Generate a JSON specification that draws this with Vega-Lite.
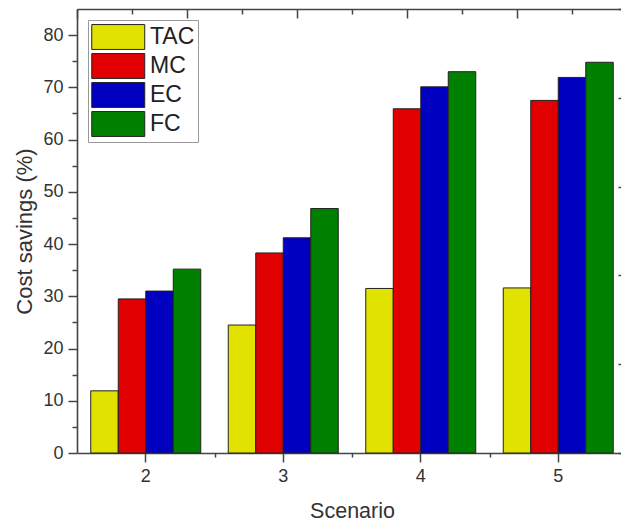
{
  "$schema": "https://vega.github.io/schema/vega-lite/v6.json",
  "width": 550,
  "height": 444,
  "autosize": {"type": "none"},
  "padding": {"left": 77, "top": 9, "right": 0, "bottom": 72},
  "background": "white",
  "config": {
    "font": "Liberation Sans",
    "view": {"stroke": null},
    "axis": {
      "grid": false,
      "domainColor": "#444",
      "tickColor": "#444",
      "domainWidth": 1.6,
      "tickWidth": 1.5,
      "labelColor": "#333",
      "titleColor": "#333",
      "labelFont": "Liberation Sans",
      "titleFont": "Liberation Sans",
      "titleFontWeight": "normal"
    }
  },
  "data": {
    "values": [
      {"Scenario": "2", "Type": "TAC", "Savings": 11.9},
      {"Scenario": "2", "Type": "MC", "Savings": 29.5},
      {"Scenario": "2", "Type": "EC", "Savings": 31.0},
      {"Scenario": "2", "Type": "FC", "Savings": 35.2},
      {"Scenario": "3", "Type": "TAC", "Savings": 24.5},
      {"Scenario": "3", "Type": "MC", "Savings": 38.3},
      {"Scenario": "3", "Type": "EC", "Savings": 41.2},
      {"Scenario": "3", "Type": "FC", "Savings": 46.8},
      {"Scenario": "4", "Type": "TAC", "Savings": 31.5},
      {"Scenario": "4", "Type": "MC", "Savings": 65.9},
      {"Scenario": "4", "Type": "EC", "Savings": 70.1},
      {"Scenario": "4", "Type": "FC", "Savings": 73.0},
      {"Scenario": "5", "Type": "TAC", "Savings": 31.6},
      {"Scenario": "5", "Type": "MC", "Savings": 67.5},
      {"Scenario": "5", "Type": "EC", "Savings": 71.9},
      {"Scenario": "5", "Type": "FC", "Savings": 74.8}
    ]
  },
  "layer": [
    {
      "mark": {"type": "bar", "stroke": "#222", "strokeWidth": 1},
      "encoding": {
        "x": {
          "field": "Scenario",
          "type": "nominal",
          "scale": {"paddingInner": 0.2, "paddingOuter": 0.1},
          "axis": {
            "orient": "bottom",
            "labelAngle": 0,
            "tickSize": 9,
            "labelPadding": 5,
            "labelFontSize": 18,
            "title": "Scenario",
            "titleFontSize": 21.5,
            "titlePadding": 15
          }
        },
        "xOffset": {
          "field": "Type",
          "type": "nominal",
          "sort": ["TAC", "MC", "EC", "FC"],
          "scale": {"paddingInner": 0, "paddingOuter": 0}
        },
        "y": {
          "field": "Savings",
          "type": "quantitative",
          "scale": {"domain": [0, 85], "nice": false},
          "axis": {
            "orient": "left",
            "values": [0, 5, 10, 15, 20, 25, 30, 35, 40, 45, 50, 55, 60, 65, 70, 75, 80],
            "labelExpr": "datum.value % 10 === 0 ? datum.label : ''",
            "tickSize": {"condition": {"test": "datum.value % 10 === 0", "value": 9}, "value": 5},
            "labelPadding": 5,
            "labelFontSize": 18,
            "title": "Cost savings (%)",
            "titleFontSize": 22,
            "titlePadding": 6
          }
        },
        "color": {
          "field": "Type",
          "type": "nominal",
          "sort": ["TAC", "MC", "EC", "FC"],
          "scale": {"domain": ["TAC", "MC", "EC", "FC"], "range": ["#e2e200", "#e00000", "#0000c0", "#008000"]},
          "legend": {
            "orient": "top-left",
            "offset": 11,
            "title": null,
            "direction": "vertical",
            "symbolType": "M-1,-0.94H3V0.94H-1Z",
            "symbolSize": 702,
            "symbolStrokeColor": "#222",
            "symbolStrokeWidth": 1,
            "symbolOpacity": 1,
            "labelFontSize": 23,
            "labelColor": "#222",
            "labelFont": "Liberation Sans",
            "labelOffset": 31,
            "rowPadding": -1.5,
            "padding": 3,
            "strokeColor": "#999",
            "fillColor": "white"
          }
        }
      }
    },
    {
      "layer": [
        {
          "mark": {"type": "point", "opacity": 0},
          "encoding": {
            "x": {
              "field": "Savings",
              "type": "quantitative",
              "scale": {"domain": [0, 10], "nice": false, "zero": false},
              "axis": {
                "orient": "top",
                "values": [0, 1, 2, 3, 4, 5, 6, 7, 8, 9, 10],
                "tickSize": {"condition": {"test": "datum.value % 2 === 0", "value": -9}, "value": -5},
                "labels": false,
                "title": null
              }
            },
            "y": {
              "field": "Savings",
              "type": "quantitative",
              "scale": {"domain": [0, 10], "nice": false, "zero": false},
              "axis": {
                "orient": "right",
                "values": [0, 1, 2, 3, 4, 5, 6, 7, 8, 9, 10],
                "tickSize": {"condition": {"test": "datum.value % 2 === 0", "value": -9}, "value": -5},
                "labels": false,
                "title": null
              }
            }
          }
        },
        {
          "mark": {"type": "point", "opacity": 0},
          "encoding": {
            "x": {
              "field": "Savings",
              "type": "quantitative",
              "scale": {"domain": [0, 10], "nice": false, "zero": false},
              "axis": {
                "orient": "bottom",
                "values": [2.5, 5, 7.5],
                "tickSize": 4,
                "labels": false,
                "domain": false,
                "title": null
              }
            }
          }
        }
      ],
      "resolve": {"axis": {"x": "independent"}}
    }
  ],
  "resolve": {
    "scale": {"x": "independent", "y": "independent"},
    "axis": {"x": "independent", "y": "independent"}
  }
}
